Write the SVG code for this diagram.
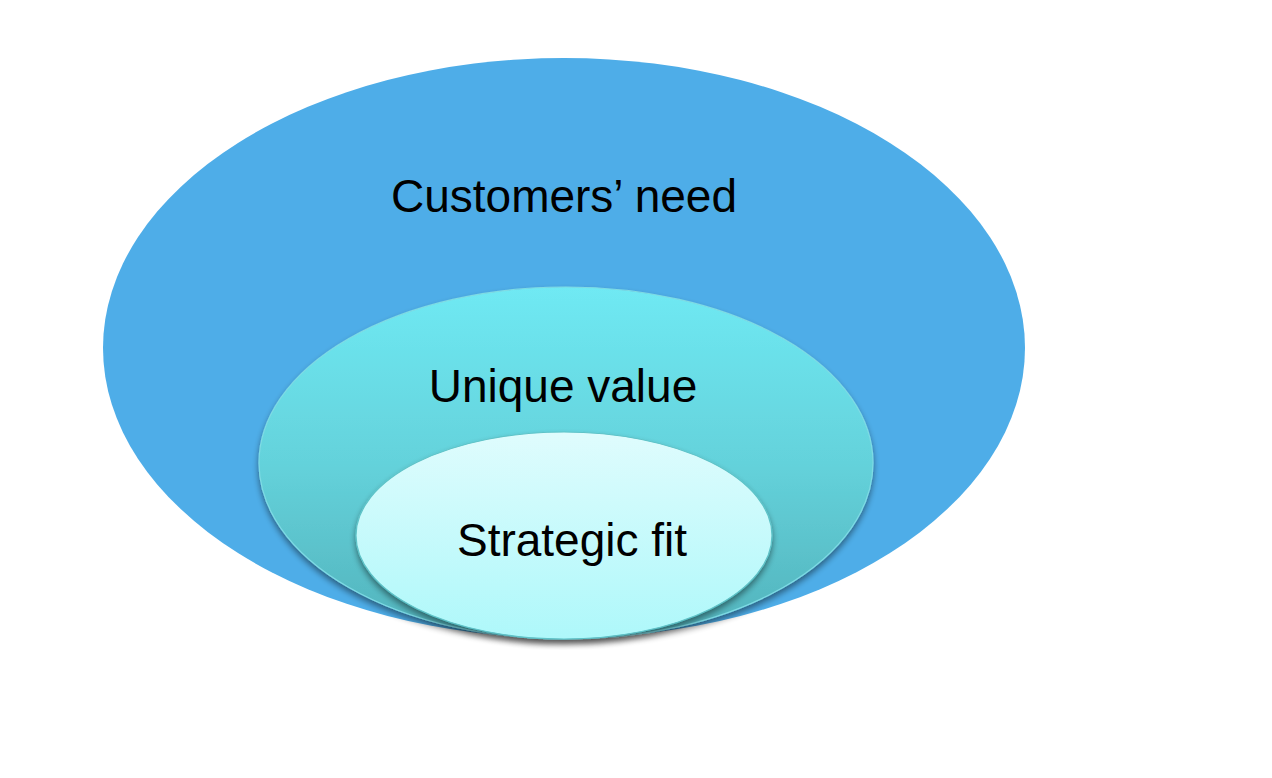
<svg xmlns="http://www.w3.org/2000/svg" width="1272" height="778" viewBox="0 0 1272 778">
<defs>
<linearGradient id="gMid" x1="0" y1="0" x2="0" y2="1">
<stop offset="0" stop-color="#6FE9F3"/>
<stop offset="0.5" stop-color="#64D2DB"/>
<stop offset="1" stop-color="#52B2BB"/>
</linearGradient>
<linearGradient id="gIn" x1="0" y1="0" x2="0" y2="1">
<stop offset="0" stop-color="#DFFCFD"/>
<stop offset="1" stop-color="#AEF8FA"/>
</linearGradient>
<filter id="sh" x="-10%" y="-10%" width="120%" height="125%">
<feGaussianBlur in="SourceAlpha" stdDeviation="3"/>
<feOffset dx="0" dy="4" result="b"/>
<feComponentTransfer><feFuncA type="linear" slope="0.45"/></feComponentTransfer>
<feMerge><feMergeNode/><feMergeNode in="SourceGraphic"/></feMerge>
</filter>
</defs>
<style>
.lbl{font-family:"Liberation Sans",Arial,sans-serif;font-size:46px;fill:#000;text-anchor:middle}
</style>
<rect width="1272" height="778" fill="#FFFFFF"/>
<g id="customers-need">
<ellipse cx="564" cy="348" rx="461" ry="290" fill="#4EADE8"/>
<text class="lbl" x="564" y="212">Customers’ need</text>
</g>
<g id="unique-value">
<ellipse cx="566" cy="463" rx="307" ry="176" fill="url(#gMid)" stroke="#7FDCE4" stroke-width="1.2" filter="url(#sh)"/>
<text class="lbl" x="563" y="402">Unique value</text>
</g>
<g id="strategic-fit">
<ellipse cx="564" cy="535.5" rx="208" ry="103.5" fill="url(#gIn)" stroke="#5FC3C8" stroke-width="1.2" filter="url(#sh)"/>
<text class="lbl" x="572" y="556">Strategic fit</text>
</g>
<g id="connectors"/>
</svg>
